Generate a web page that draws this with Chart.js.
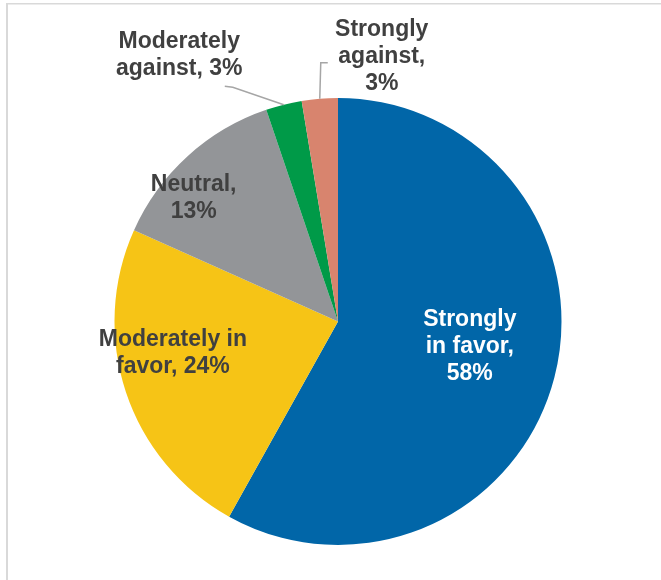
<!DOCTYPE html>
<html>
<head>
<meta charset="utf-8">
<script src="https://cdn.jsdelivr.net/npm/chart.js@4"></script>
<style>
  body { margin: 0; background: #fff; }
  #wrap { position: relative; width: 661px; height: 580px; }
</style>
</head>
<body>
<div id="wrap"><canvas id="chart-area" width="661" height="580"></canvas></div>
<script>
// answers to the survey question, clockwise from 12 o'clock
var categories = ["Strongly in favor", "Moderately in favor", "Neutral", "Moderately against", "Strongly against"];
var shares = [58.1, 23.6, 13.1, 2.6, 2.6];
var labelLines = [
	["Strongly", "in favor,", "58%"],
	["Moderately in", "favor, 24%"],
	["Neutral,", "13%"],
	["Moderately", "against, 3%"],
	["Strongly", "against,", "3%"]
];
var sliceColors = ["#0166A8", "#F6C416", "#939598", "#009A48", "#D8846E"];

// label placement: radius fraction at slice middle plus a nudge
var labelPos = [
	{ rf: 0.6, dx: 2, dy: -10.5, color: "#ffffff" },
	{ rf: 0.75, dx: -6, dy: -23, color: "#404040" },
	{ rf: 0.85, dx: -16.5, dy: 16, color: "#404040" },
	{ rf: 1, dx: -104.5, dy: -51, color: "#404040", leader: [[53.5, 33.5], [45.5, 32.5]] },
	{ rf: 1, dx: 62, dy: -44, color: "#404040", leader: [[-61, 8], [-54, 8]] }
];

var framePlugin = {
	id: 'frame',
	beforeDraw: function (chart) {
		var ctx = chart.ctx;
		ctx.save();
		ctx.fillStyle = "#d9d9d9";
		ctx.fillRect(6, 3, 2, chart.height - 3);
		ctx.fillRect(6, 3, chart.width - 6, 1.5);
		ctx.restore();
	}
};

var labelPlugin = {
	id: 'sliceLabels',
	afterDatasetsDraw: function (chart) {
		var ctx = chart.ctx;
		var arcs = chart.getDatasetMeta(0).data;
		ctx.save();
		ctx.font = "bold 23px 'Liberation Sans', Arial, sans-serif";
		ctx.textAlign = "center";
		ctx.textBaseline = "alphabetic";
		arcs.forEach(function (arc, i) {
			var p = labelPos[i];
			var mid = (arc.startAngle + arc.endAngle) / 2;
			var r = arc.outerRadius * p.rf;
			var ax = arc.x + Math.cos(mid) * r;
			var ay = arc.y + Math.sin(mid) * r;
			var cx = ax + p.dx;
			var cy = ay + p.dy;
			if (p.leader) {
				ctx.strokeStyle = "#a6a6a6";
				ctx.lineWidth = 1.5;
				ctx.beginPath();
				ctx.moveTo(arc.x + Math.cos(mid) * arc.outerRadius, arc.y + Math.sin(mid) * arc.outerRadius);
				p.leader.forEach(function (pt) {
					ctx.lineTo(cx + pt[0], cy + pt[1]);
				});
				ctx.stroke();
			}
			ctx.fillStyle = p.color;
			var lines = labelLines[i];
			lines.forEach(function (txt, k) {
				var y = cy + (k - (lines.length - 1) / 2) * 27 + 8;
				ctx.fillText(txt, cx, y);
			});
		});
		ctx.restore();
	}
};

function init () {
	pieChart();
}

function pieChart () {
	var config = {
		type: 'pie',
		data: {
			labels: categories,
			datasets: [{
				data: shares,
				backgroundColor: sliceColors,
				borderWidth: 0
			}]
		},
		options: {
			responsive: false,
			animation: false,
			layout: { padding: { left: 114.5, right: 99.5, top: 98, bottom: 35 } },
			plugins: {
				legend: { display: false },
				tooltip: { enabled: false }
			}
		},
		plugins: [framePlugin, labelPlugin]
	};
	var ctx = document.getElementById("chart-area").getContext("2d");
	window.myPie = new Chart(ctx, config);
}

init();
</script>
</body>
</html>
